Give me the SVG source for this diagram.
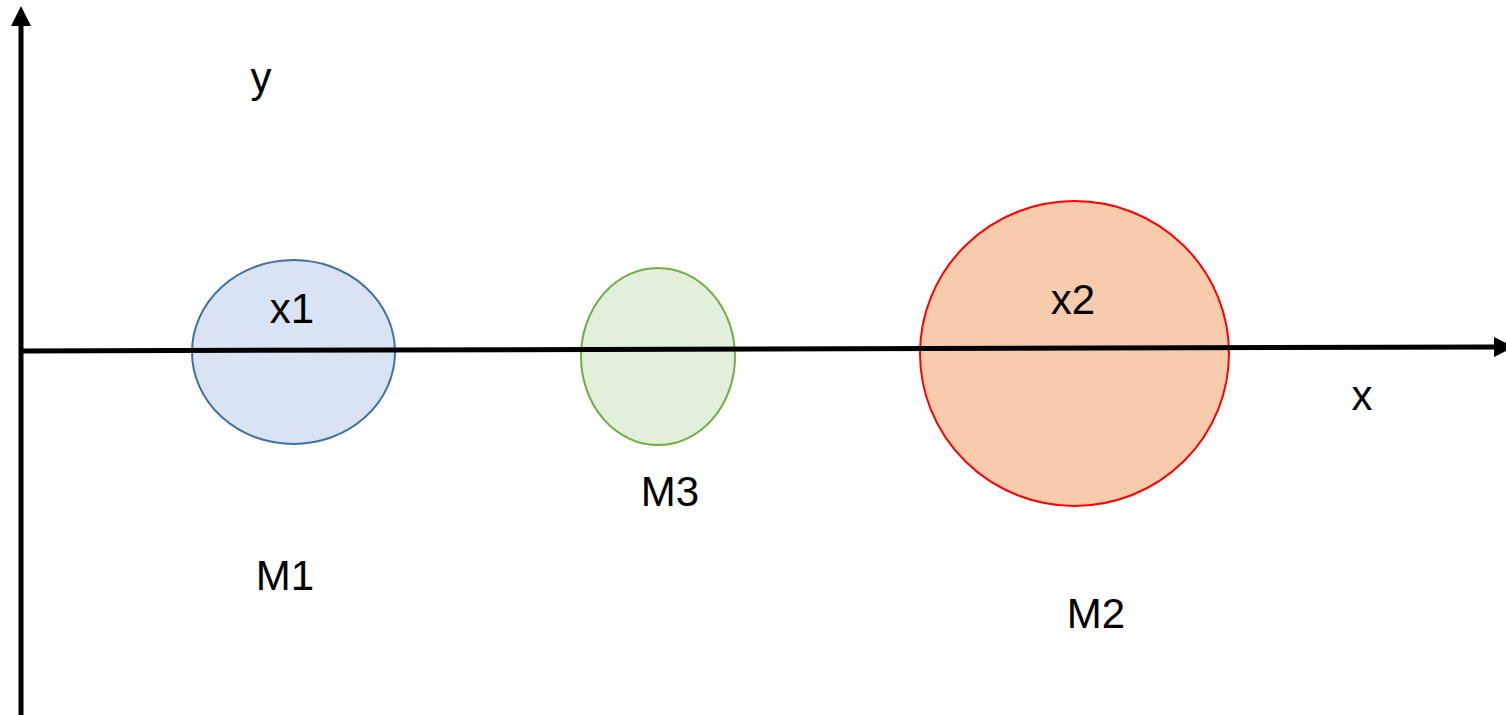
<svg xmlns="http://www.w3.org/2000/svg" width="1506" height="715" viewBox="0 0 1506 715">
<style>
text{font-family:"Liberation Sans",Arial,sans-serif;font-size:42px;fill:#000;text-anchor:middle}
.axis{stroke:#000;stroke-width:5;fill:none}
</style>
<defs>
<marker id="ah" markerWidth="4" markerHeight="4" refX="0" refY="2" orient="auto" markerUnits="strokeWidth">
<path d="M0,0 L4,2 L0,4 z" fill="#000"/>
</marker>
</defs>
<rect width="1506" height="715" fill="#fff"/>
<g id="nodes">
<g id="M1"><ellipse cx="293.5" cy="352" rx="101.5" ry="92" fill="#dae3f3" stroke="#41719c" stroke-width="2"/></g>
<g id="M3"><ellipse cx="658" cy="356.5" rx="77" ry="88.5" fill="#e2efda" stroke="#70ad47" stroke-width="2"/></g>
<g id="M2"><ellipse cx="1074.5" cy="353.5" rx="154.5" ry="152.5" fill="#f8cbad" stroke="#ff0000" stroke-width="2"/></g>
</g>
<g id="connectors">
<line class="axis" x1="21" y1="715" x2="21" y2="26" marker-end="url(#ah)"/>
<line class="axis" x1="20" y1="351" x2="1494" y2="347" marker-end="url(#ah)"/>
</g>
<g id="labels">
<text x="261" y="92">y</text>
<text x="292" y="323">x1</text>
<text x="1073" y="314">x2</text>
<text x="1362" y="410">x</text>
<text x="670" y="506">M3</text>
<text x="285" y="590">M1</text>
<text x="1096" y="628">M2</text>
</g>
</svg>
